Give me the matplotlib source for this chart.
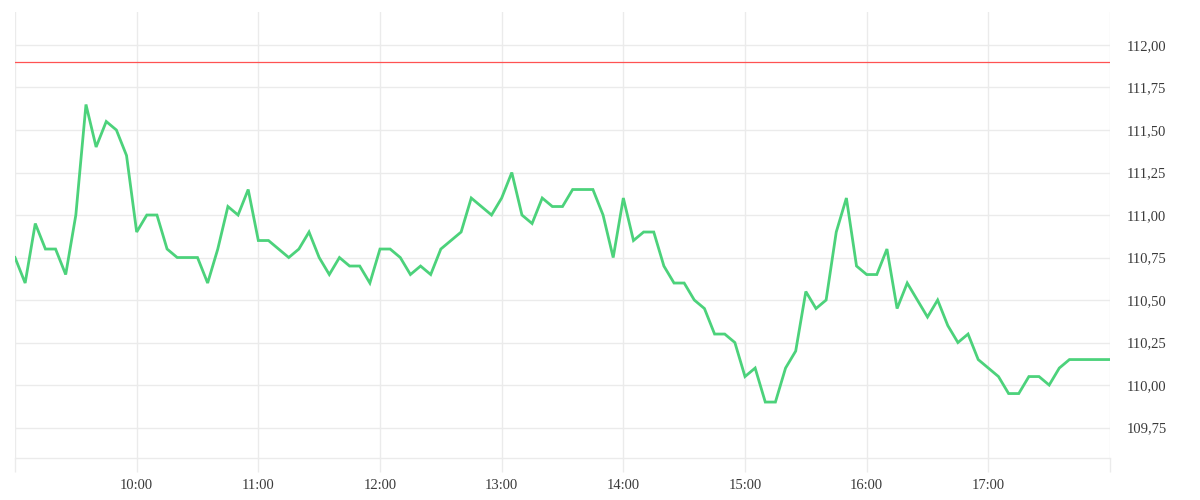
import matplotlib
matplotlib.use("Agg")
import matplotlib.pyplot as plt
import numpy as np

# 5-minute samples starting 9:00
start_hour = 9.0
step_minutes = 5
values = [
    110.75, 110.60, 110.95, 110.80, 110.80, 110.65, 111.00, 111.65, 111.40, 111.55, 111.50, 111.35,  # 9:00
    110.90, 111.00, 111.00, 110.80, 110.75, 110.75, 110.75, 110.60, 110.80, 111.05, 111.00, 111.15,  # 10:00
    110.85, 110.85, 110.80, 110.75, 110.80, 110.90, 110.75, 110.65, 110.75, 110.70, 110.70, 110.60,  # 11:00
    110.80, 110.80, 110.75, 110.65, 110.70, 110.65, 110.80, 110.85, 110.90, 111.10, 111.05, 111.00,  # 12:00
    111.10, 111.25, 111.00, 110.95, 111.10, 111.05, 111.05, 111.15, 111.15, 111.15, 111.00, 110.75,  # 13:00
    111.10, 110.85, 110.90, 110.90, 110.70, 110.60, 110.60, 110.50, 110.45, 110.30, 110.30, 110.25,  # 14:00
    110.05, 110.10, 109.90, 109.90, 110.10, 110.20, 110.55, 110.45, 110.50, 110.90, 111.10, 110.70,  # 15:00
    110.65, 110.65, 110.80, 110.45, 110.60, 110.50, 110.40, 110.50, 110.35, 110.25, 110.30, 110.15,  # 16:00
    110.10, 110.05, 109.95, 109.95, 110.05, 110.05, 110.00, 110.10, 110.15, 110.15, 110.15, 110.15,  # 17:00
    110.15,  # 18:00
]
reference_level = 111.90
y_ticks = [109.75, 110.00, 110.25, 110.50, 110.75, 111.00, 111.25, 111.50, 111.75, 112.00]
x_hours = [9, 10, 11, 12, 13, 14, 15, 16, 17, 18]
x_labels = ["", "10:00", "11:00", "12:00", "13:00", "14:00", "15:00", "16:00", "17:00", ""]

times = start_hour + np.arange(len(values)) * step_minutes / 60.0

plt.rcParams['font.family'] = ['Liberation Serif', 'DejaVu Serif']

fig = plt.figure(figsize=(12, 5), dpi=100)
ax = fig.add_axes([15/1200, 42/500, 1095/1200, 446/500])

grid_c = '#ebebeb'
ax.set_xlim(9, 18)
ax.set_ylim(109.571, 112.194)

for yv in y_ticks:
    ax.axhline(yv, color=grid_c, lw=1.0, zorder=0)
for xv in x_hours:
    ax.axvline(xv, color=grid_c, lw=1.0, zorder=0)

ax.axhline(reference_level, color='#ff5252', lw=0.9, zorder=2)
ax.plot(times, values, color='#4cd27b', lw=2.0, zorder=3, solid_joinstyle='miter')

for s in ['top', 'left', 'right']:
    ax.spines[s].set_visible(False)
ax.spines['bottom'].set_color(grid_c)
ax.spines['bottom'].set_linewidth(1.0)

ax.set_xticks(x_hours)
ax.set_xticklabels(x_labels)
ax.tick_params(axis='x', length=10, width=1.0, color=grid_c, pad=5,
               labelsize=10.5, labelcolor='#3a3a3a')

ax.yaxis.tick_right()
ax.set_yticks(y_ticks)
ax.set_yticklabels([f"{v:.2f}".replace('.', ',') for v in y_ticks])
ax.tick_params(axis='y', length=0, pad=12, labelsize=10.5, labelcolor='#3a3a3a')

fig.savefig('out.png', dpi=100, facecolor='white')
